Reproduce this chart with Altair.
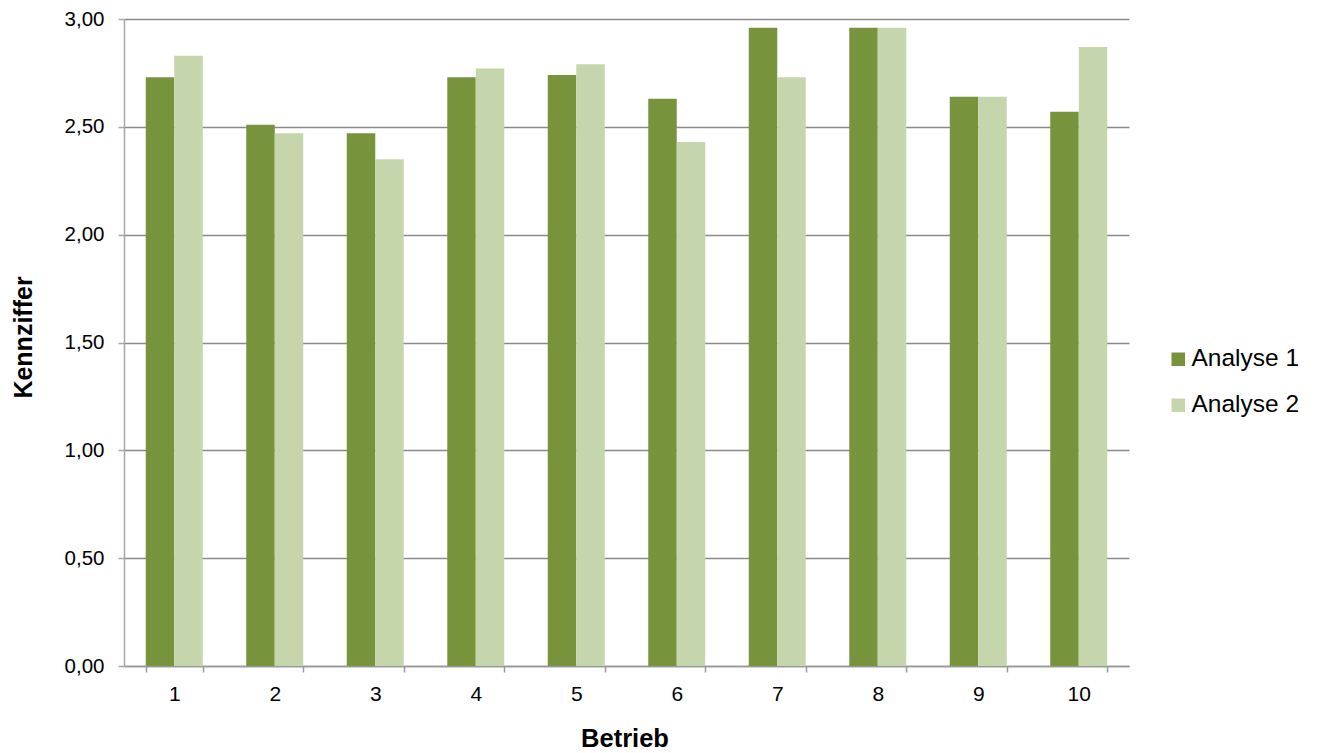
import altair as alt
import pandas as pd

betriebe = ["1", "2", "3", "4", "5", "6", "7", "8", "9", "10"]
analyse1 = [2.73, 2.51, 2.47, 2.73, 2.74, 2.63, 2.96, 2.96, 2.64, 2.57]
analyse2 = [2.83, 2.47, 2.35, 2.77, 2.79, 2.43, 2.73, 2.96, 2.64, 2.87]
series = ["Analyse 1", "Analyse 2"]
colors = ["#77933C", "#C6D6AC"]
y_ticks = [0, 0.5, 1.0, 1.5, 2.0, 2.5, 3.0]

rows = []
for i, b in enumerate(betriebe):
    rows.append({"Betrieb": b, "Serie": series[0], "Wert": analyse1[i]})
    rows.append({"Betrieb": b, "Serie": series[1], "Wert": analyse2[i]})
df = pd.DataFrame(rows)

FONT = "Liberation Sans"

chart = alt.Chart(df).mark_bar().encode(
    x=alt.X("Betrieb:N", sort=betriebe,
            scale=alt.Scale(paddingInner=0.433, paddingOuter=0.2165),
            axis=alt.Axis(title="Betrieb", labelAngle=0, tickBand="extent",
                          tickSize=6, labelPadding=11, labelFontSize=21,
                          titleFontSize=25.5, titleFontWeight="bold",
                          titleX=500.5, titleY=80, titleBaseline="alphabetic",
                          domainColor="#999999", tickColor="#999999",
                          domainWidth=1.5, tickWidth=1.5, grid=False)),
    xOffset=alt.XOffset("Serie:N", sort=series, scale=alt.Scale(paddingInner=0, paddingOuter=0)),
    y=alt.Y("Wert:Q", scale=alt.Scale(domain=[0, 3], nice=False),
            axis=alt.Axis(title="Kennziffer", values=y_ticks,
                          labelExpr="replace(format(datum.value, '.2f'), '.', ',')",
                          tickSize=6, labelPadding=14, labelFontSize=20.5,
                          titleFontSize=25, titleFontWeight="bold",
                          titleX=-93, titleY=318, titleBaseline="alphabetic",
                          domainColor="#a6a6a6", tickColor="#a6a6a6",
                          domainWidth=1.5, tickWidth=1.5,
                          grid=True, gridColor="#8a8a8a", gridWidth=1.5)),
    color=alt.Color("Serie:N", sort=series,
                    scale=alt.Scale(domain=series, range=colors),
                    legend=alt.Legend(title=None, orient="none", legendX=1042, legendY=328,
                                      symbolType="square", symbolSize=182,
                                      symbolStrokeWidth=0, labelFontSize=24.5,
                                      labelOffset=1, rowPadding=21, padding=0,
                                      labelColor="black")),
).properties(
    width=1005, height=647,
    autosize=alt.AutoSizeParams(type="none"),
    padding={"left": 116, "top": 11, "right": 184, "bottom": 95},
).configure_view(stroke=None).configure_axis(
    labelFont=FONT, titleFont=FONT, labelColor="black", titleColor="black"
).configure_legend(labelFont=FONT)

chart.save("out.html", embed_options={"renderer": "svg", "actions": False})
